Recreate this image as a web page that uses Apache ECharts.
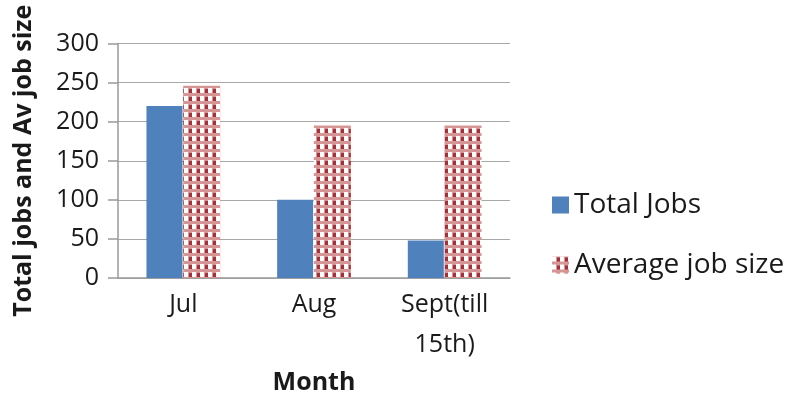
<!DOCTYPE html>
<html>
<head>
<meta charset="utf-8">
<script src="https://cdn.jsdelivr.net/npm/echarts@6/dist/echarts.min.js"></script>
<style>
  html, body { margin: 0; padding: 0; background: #fff; }
  #chart { width: 793px; height: 398px; }
</style>
</head>
<body>
<div id="chart"></div>
<script>
// Monthly job figures
const months = ['Jul', 'Aug', 'Sept(till\n15th)'];
const totalJobs = [220, 100, 48];
const averageJobSize = [246, 195, 195];
const yTicks = [0, 50, 100, 150, 200, 250, 300];

// Checked fill for the average series: pink base, white cells, dark red cells
function checkPattern() {
  const c = document.createElement('canvas');
  c.width = 8; c.height = 8;
  const g = c.getContext('2d');
  g.fillStyle = '#d69696';
  g.fillRect(0, 0, 8, 8);
  g.fillStyle = '#ffffff';
  g.fillRect(0, 0, 4, 5);
  g.fillStyle = '#a5303a';
  g.fillRect(5, 1, 3, 4);
  return c;
}

const font = '"Open Sans", "Noto Sans", sans-serif';
const chart = echarts.init(document.getElementById('chart'), null, { renderer: 'canvas' });

chart.setOption({
  animation: false,
  backgroundColor: '#ffffff',
  grid: { left: 118, right: 283, top: 43.5, bottom: 120, containLabel: false, outerBoundsMode: 'none' },
  legend: {
    orient: 'vertical',
    left: 547,
    top: 186,
    itemWidth: 17,
    itemHeight: 17,
    itemGap: 32,
    icon: 'rect',
    textStyle: { fontFamily: font, fontSize: 28, color: '#1a1a1a', padding: [0, 0, 0, 0] },
    data: ['Total Jobs', 'Average job size']
  },
  xAxis: {
    type: 'category',
    data: months,
    name: 'Month',
    nameLocation: 'middle',
    nameGap: 80,
    nameTextStyle: { fontFamily: font, fontSize: 25, fontWeight: 'bold', color: '#1a1a1a' },
    axisLine: { show: true, lineStyle: { color: '#9a9a9a', width: 1.5 } },
    axisTick: { show: false },
    axisLabel: { fontFamily: font, fontSize: 25, color: '#1a1a1a', margin: 7, lineHeight: 40, interval: 0 }
  },
  yAxis: {
    type: 'value',
    min: 0,
    max: 300,
    interval: 50,
    name: 'Total jobs and Av job size',
    nameLocation: 'middle',
    nameGap: 82,
    nameTextStyle: { fontFamily: font, fontSize: 25, fontWeight: 'bold', color: '#1a1a1a' },
    axisLine: { show: true, lineStyle: { color: '#9a9a9a', width: 1.5 } },
    axisTick: { show: true, inside: false, length: 10, lineStyle: { color: '#9a9a9a', width: 1.5 } },
    splitLine: { show: true, lineStyle: { color: '#a8a8a8', width: 1 } },
    axisLabel: {
      fontFamily: font, fontSize: 25, color: '#1a1a1a', margin: 19,
      formatter: v => (yTicks.indexOf(v) >= 0 ? String(v) : '')
    }
  },
  series: [
    {
      name: 'Total Jobs',
      type: 'bar',
      data: totalJobs,
      barWidth: 36,
      barGap: '2%',
      itemStyle: { color: '#4f81bd' }
    },
    {
      name: 'Average job size',
      type: 'bar',
      data: averageJobSize,
      barWidth: 37,
      itemStyle: { color: { image: checkPattern(), repeat: 'repeat' } }
    }
  ]
});
</script>
</body>
</html>
